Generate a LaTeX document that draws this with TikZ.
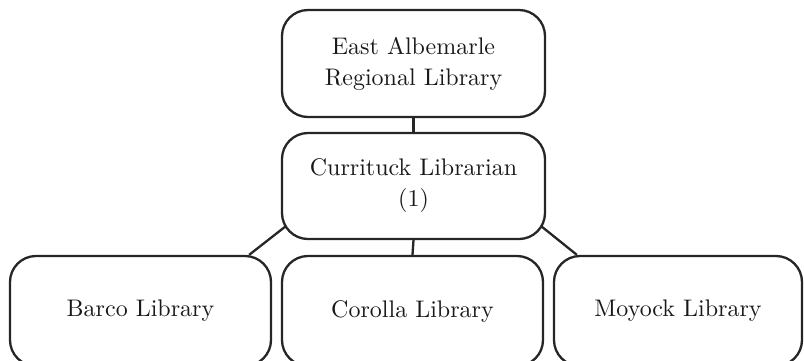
\documentclass[tikz,border=0pt]{standalone}
\usepackage{fontspec}
\setmainfont{lmroman10-regular.otf}
\usetikzlibrary{calc}
\begin{document}
\begin{tikzpicture}[x=1pt,y=-1pt,
  orgbox/.style={draw=black!85, line width=2.3pt, rounded corners=26pt, align=center,
    inner sep=0pt, font=\fontsize{24}{31}\selectfont, text=black!90},
  link/.style={draw=black!85, line width=2.3pt}]
\useasboundingbox (0,0) rectangle (804,360);
\node[orgbox, minimum width=263pt, minimum height=107pt] (top) at (413.5,63.5) {East Albemarle\\Regional Library};
\node[orgbox, minimum width=263pt, minimum height=106pt] (mid) at (413.5,186) {Currituck Librarian\\(1)};
\node[orgbox, minimum width=261pt, minimum height=110pt] (barco) at (140.5,311) {Barco Library};
\node[orgbox, minimum width=261pt, minimum height=110pt] (corolla) at (412.5,311) {Corolla Library};
\node[orgbox, minimum width=248pt, minimum height=110pt] (moyock) at (678,311) {Moyock Library};
\draw[link] (top.south) -- (mid.north);
\draw[link] (mid.south) -- (corolla.north);
\draw[link] ($(mid.south west)+(5pt,14pt)$) -- ($(barco.north east)+(-23pt,0pt)$);
\draw[link] ($(mid.south east)+(-5pt,14pt)$) -- ($(moyock.north west)+(24pt,0pt)$);
\end{tikzpicture}
\end{document}
